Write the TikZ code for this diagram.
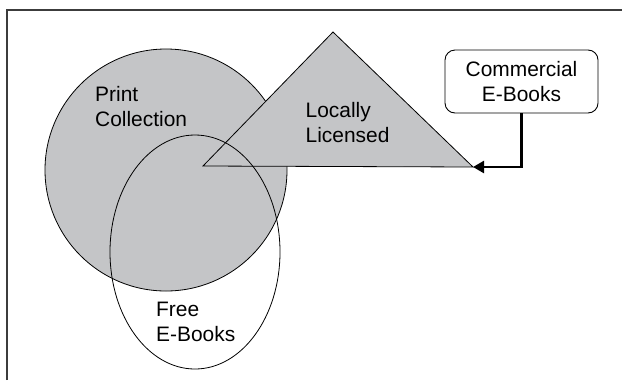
\documentclass[tikz,border=0pt]{standalone}
\usepackage{fontspec}
\setmainfont{Liberation Sans}
\usetikzlibrary{positioning,shapes.geometric,arrows.meta}
\definecolor{venngray}{RGB}{196,197,199}
\definecolor{framegray}{RGB}{60,60,60}

\begin{document}
\begin{tikzpicture}[x=1bp,y=-1bp,
  lbl/.style={align=left,inner sep=0pt,font=\fontsize{21}{25}\selectfont},
  shapeline/.style={draw=black,line width=0.8bp}]
\useasboundingbox (0,0) rectangle (622,380);
% Draw the frame
\draw[framegray,line width=2bp] (7,380) -- (7,10) -- (622,10);
% Print collection circle
\node[circle,shapeline,fill=venngray,minimum size=242bp,inner sep=0pt] (print) at (166,170) {};
% Locally licensed triangle
\coordinate (tl) at (203,166);
\coordinate (tt) at (333,32);
\coordinate (tr) at (473,167);
\filldraw[shapeline,fill=venngray] (tl) -- (tt) -- (tr) -- cycle;
% Free e-books ellipse
\node[ellipse,shapeline,minimum width=170bp,minimum height=234bp,inner sep=0pt] (free) at (195,252) {};
% Add labels
\node[lbl,anchor=north west] (printlbl) at (95,86) {Print\\Collection};
\node[lbl,anchor=north west] (locallbl) at (305.5,102) {Locally\\Licensed};
\node[lbl,anchor=north west] (freelbl) at (156,302) {Free\\E-Books};
% Commercial box and arrow
\node[lbl,align=center,draw,line width=0.9bp,rounded corners=10bp,minimum width=153bp,minimum height=63bp] (comm) at (521.5,81.5) {Commercial\\E-Books};
\draw[line width=2.5bp,-{Triangle[length=11bp,width=12bp]}] (comm.south) |- (tr);
\end{tikzpicture}
\end{document}
